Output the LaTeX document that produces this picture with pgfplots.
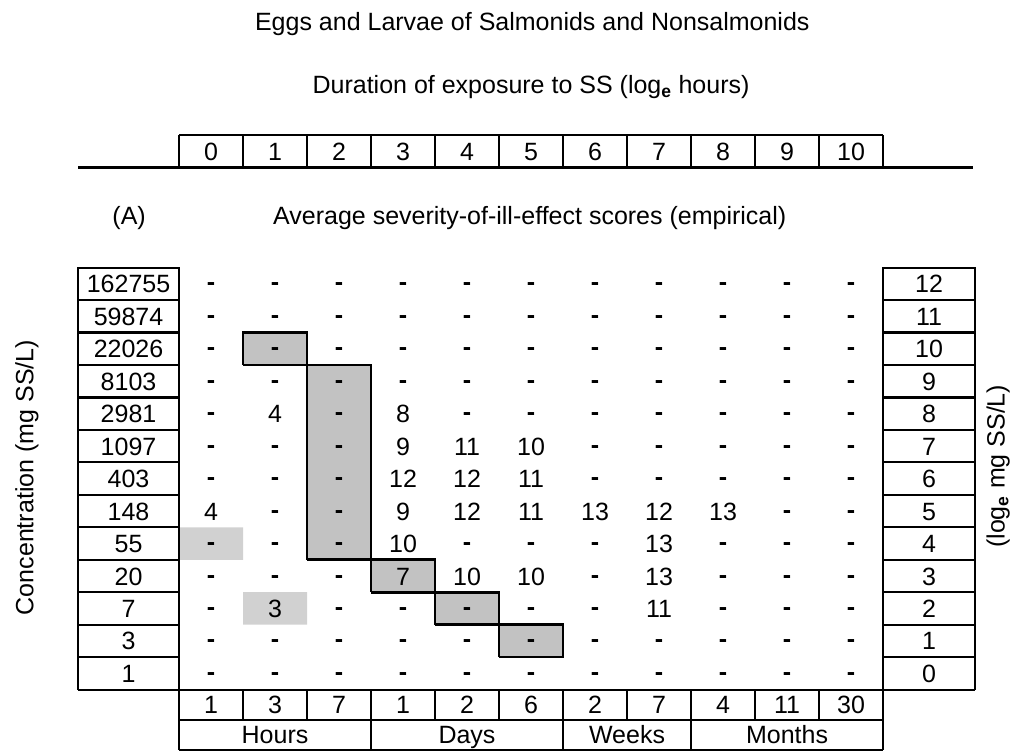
\documentclass[border=0pt]{standalone}
\usepackage{fontspec}
\setmainfont{Liberation Sans}
\usepackage{pgfplots}
\pgfplotsset{compat=1.18}
\usepackage{pgfplotstable}

\newcommand{\fs}{\fontsize{25bp}{30bp}\selectfont}
\definecolor{shade}{gray}{0.76}
\definecolor{lightshade}{gray}{0.82}

% severity scores: column (log_e hours) + 0.5, row (log_e mg SS/L) + 0.5
\pgfplotstableread{
x y score
1.5 8.5 4
3.5 8.5 8
3.5 7.5 9
4.5 7.5 11
5.5 7.5 10
3.5 6.5 12
4.5 6.5 12
5.5 6.5 11
0.5 5.5 4
3.5 5.5 9
4.5 5.5 12
5.5 5.5 11
6.5 5.5 13
7.5 5.5 12
8.5 5.5 13
3.5 4.5 10
7.5 4.5 13
3.5 3.5 7
4.5 3.5 10
5.5 3.5 10
7.5 3.5 13
1.5 2.5 3
7.5 2.5 11
}\scores

\begin{document}
\begin{tikzpicture}
\begin{axis}[
    width=1023bp, height=750bp, scale only axis,
    xmin=-2.797, xmax=13.187, ymin=-1.86, ymax=21.245,
    hide axis, clip=false,
    every node near coord/.append style={font=\fs, anchor=base, yshift=-9bp, inner sep=0pt},
    box/.style={black, line width=2.2bp, line cap=square},
    cell/.style={fill=shade, draw=black, line width=2.6bp, line cap=square},
]
\addplot[draw=none] coordinates {(-2.797,-1.86) (13.187,21.245)};

% shaded cells
\addplot[fill=lightshade, draw=none] coordinates {(0,4) (1,4) (1,5) (0,5) (0,4)};
\addplot[fill=lightshade, draw=none] coordinates {(1,2) (2,2) (2,3) (1,3) (1,2)};
\addplot[cell] coordinates {(1,10) (2,10) (2,11) (1,11) (1,10)};
\addplot[cell] coordinates {(2,4) (3,4) (3,10) (2,10) (2,4)};
\addplot[cell] coordinates {(3,3) (4,3) (4,4) (3,4) (3,3)};
\addplot[cell] coordinates {(4,2) (5,2) (5,3) (4,3) (4,2)};
\addplot[cell] coordinates {(5,1) (6,1) (6,2) (5,2) (5,1)};

% dashes (no effect score)
\addplot[only marks, mark=none, nodes near coords={\textbf{-}},
    every node near coord/.append style={yshift=2bp}] coordinates {
(0.5,12.5) (1.5,12.5) (2.5,12.5) (3.5,12.5) (4.5,12.5) (5.5,12.5) (6.5,12.5) (7.5,12.5) (8.5,12.5) (9.5,12.5) (10.5,12.5)
(0.5,11.5) (1.5,11.5) (2.5,11.5) (3.5,11.5) (4.5,11.5) (5.5,11.5) (6.5,11.5) (7.5,11.5) (8.5,11.5) (9.5,11.5) (10.5,11.5)
(0.5,10.5) (1.5,10.5) (2.5,10.5) (3.5,10.5) (4.5,10.5) (5.5,10.5) (6.5,10.5) (7.5,10.5) (8.5,10.5) (9.5,10.5) (10.5,10.5)
(0.5,9.5) (1.5,9.5) (2.5,9.5) (3.5,9.5) (4.5,9.5) (5.5,9.5) (6.5,9.5) (7.5,9.5) (8.5,9.5) (9.5,9.5) (10.5,9.5)
(0.5,8.5) (2.5,8.5) (4.5,8.5) (5.5,8.5) (6.5,8.5) (7.5,8.5) (8.5,8.5) (9.5,8.5) (10.5,8.5)
(0.5,7.5) (1.5,7.5) (2.5,7.5) (6.5,7.5) (7.5,7.5) (8.5,7.5) (9.5,7.5) (10.5,7.5)
(0.5,6.5) (1.5,6.5) (2.5,6.5) (6.5,6.5) (7.5,6.5) (8.5,6.5) (9.5,6.5) (10.5,6.5)
(1.5,5.5) (2.5,5.5) (9.5,5.5) (10.5,5.5)
(0.5,4.5) (1.5,4.5) (2.5,4.5) (4.5,4.5) (5.5,4.5) (6.5,4.5) (8.5,4.5) (9.5,4.5) (10.5,4.5)
(0.5,3.5) (1.5,3.5) (2.5,3.5) (6.5,3.5) (8.5,3.5) (9.5,3.5) (10.5,3.5)
(0.5,2.5) (2.5,2.5) (3.5,2.5) (4.5,2.5) (5.5,2.5) (6.5,2.5) (8.5,2.5) (9.5,2.5) (10.5,2.5)
(0.5,1.5) (1.5,1.5) (2.5,1.5) (3.5,1.5) (4.5,1.5) (5.5,1.5) (6.5,1.5) (7.5,1.5) (8.5,1.5) (9.5,1.5) (10.5,1.5)
(0.5,0.5) (1.5,0.5) (2.5,0.5) (3.5,0.5) (4.5,0.5) (5.5,0.5) (6.5,0.5) (7.5,0.5) (8.5,0.5) (9.5,0.5) (10.5,0.5)
};

% scores
\addplot[only marks, mark=none, nodes near coords, point meta=explicit symbolic]
    table[x=x, y=y, meta=score] {\scores};

% left box (mg SS/L)
\addplot[box] coordinates {(-1.578,0) (-1.578,13) (0,13) (0,0)};
\pgfplotsinvokeforeach{0,...,13}{
  \addplot[box] coordinates {(-1.578,#1) (0,#1)};
}
\addplot[only marks, mark=none, nodes near coords, point meta=explicit symbolic] coordinates {
(-0.789,12.5) [162755] (-0.789,11.5) [59874] (-0.789,10.5) [22026] (-0.789,9.5) [8103]
(-0.789,8.5) [2981] (-0.789,7.5) [1097] (-0.789,6.5) [403] (-0.789,5.5) [148]
(-0.789,4.5) [55] (-0.789,3.5) [20] (-0.789,2.5) [7] (-0.789,1.5) [3] (-0.789,0.5) [1]
};

% right box (log_e mg SS/L)
\addplot[box] coordinates {(11,0) (11,13) (12.44,13) (12.44,0)};
\pgfplotsinvokeforeach{0,...,13}{
  \addplot[box] coordinates {(11,#1) (12.44,#1)};
}
\addplot[only marks, mark=none, nodes near coords, point meta=explicit symbolic] coordinates {
(11.72,12.5) [12] (11.72,11.5) [11] (11.72,10.5) [10] (11.72,9.5) [9] (11.72,8.5) [8]
(11.72,7.5) [7] (11.72,6.5) [6] (11.72,5.5) [5] (11.72,4.5) [4] (11.72,3.5) [3]
(11.72,2.5) [2] (11.72,1.5) [1] (11.72,0.5) [0]
};

% top header (log_e hours)
\addplot[black, line width=3bp] coordinates {(-1.578,16.08) (12.41,16.08)};
\addplot[box] coordinates {(0,17.08) (11,17.08)};
\pgfplotsinvokeforeach{0,...,11}{
  \addplot[box] coordinates {(#1,16.08) (#1,17.08)};
}
\addplot[only marks, mark=none, nodes near coords, point meta=explicit symbolic] coordinates {
(0.5,16.58) [0] (1.5,16.58) [1] (2.5,16.58) [2] (3.5,16.58) [3] (4.5,16.58) [4] (5.5,16.58) [5]
(6.5,16.58) [6] (7.5,16.58) [7] (8.5,16.58) [8] (9.5,16.58) [9] (10.5,16.58) [10]
};

% bottom: durations
\addplot[box] coordinates {(0,0) (11,0)};
\addplot[box] coordinates {(0,-0.924) (11,-0.924)};
\addplot[box] coordinates {(0,-1.848) (11,-1.848)};
\pgfplotsinvokeforeach{0,...,11}{
  \addplot[box] coordinates {(#1,-0.924) (#1,0)};
}
\pgfplotsinvokeforeach{0,3,6,8,11}{
  \addplot[box] coordinates {(#1,-1.848) (#1,-0.924)};
}
\addplot[only marks, mark=none, nodes near coords, point meta=explicit symbolic] coordinates {
(0.5,-0.462) [1] (1.5,-0.462) [3] (2.5,-0.462) [7] (3.5,-0.462) [1] (4.5,-0.462) [2] (5.5,-0.462) [6]
(6.5,-0.462) [2] (7.5,-0.462) [7] (8.5,-0.462) [4] (9.5,-0.462) [11] (10.5,-0.462) [30]
(1.5,-1.386) [Hours] (4.5,-1.386) [Days] (7,-1.386) [Weeks] (9.5,-1.386) [Months]
};

% titles and labels
\node[font=\fs] at (axis cs:5.52,20.49) {Eggs and Larvae of Salmonids and Nonsalmonids};
\node[font=\fs] at (axis cs:5.5,18.55) {Duration of exposure to SS (log\textsubscript{\textbf{e}} hours)};
\node[font=\fs] at (axis cs:-0.78,14.54) {(A)};
\node[font=\fs] at (axis cs:5.48,14.54) {Average severity-of-ill-effect scores (empirical)};
\node[font=\fs, rotate=90] at (axis cs:-2.375,6.53) {Concentration (mg SS/L)};
\node[font=\fs, rotate=90] at (axis cs:12.8,6.88) {(log\textsubscript{\textbf{e}} mg SS/L)};
\end{axis}
\end{tikzpicture}
\end{document}
